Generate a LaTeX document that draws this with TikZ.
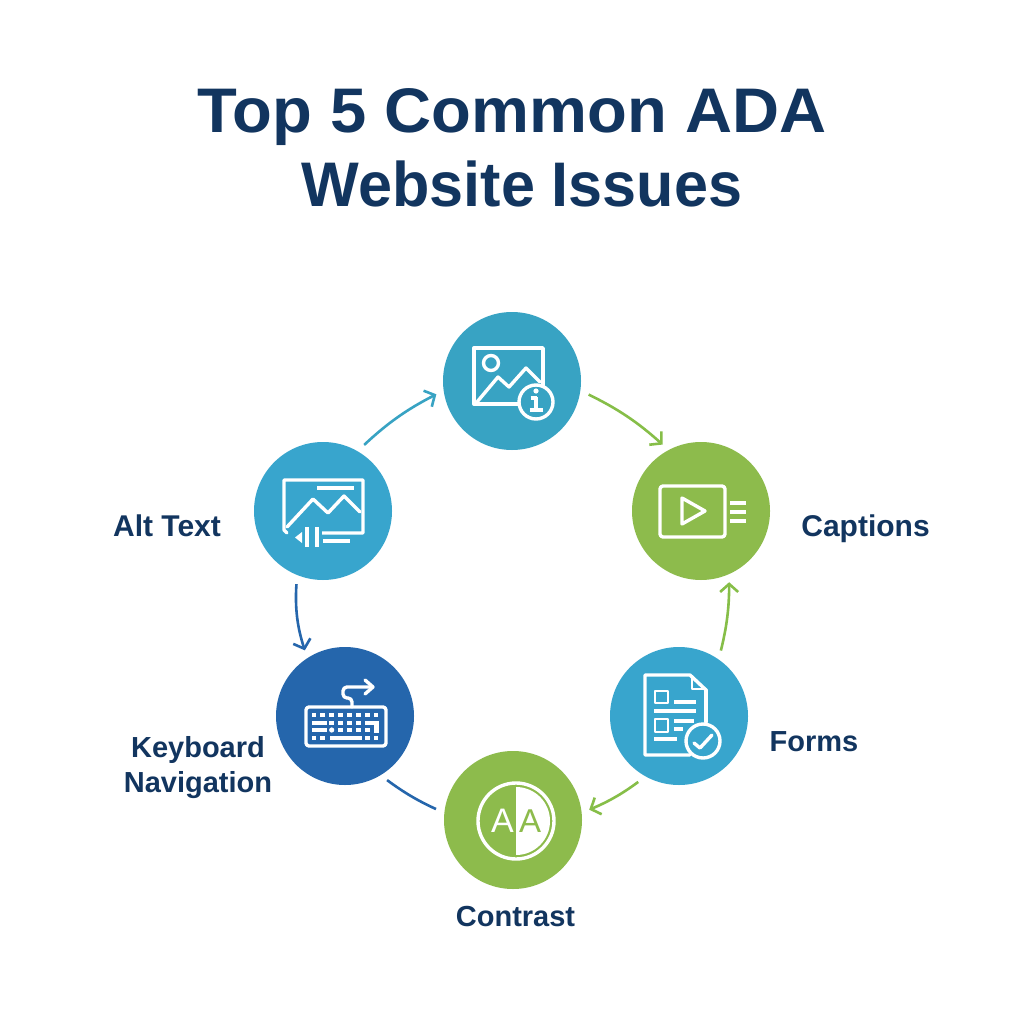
\documentclass[tikz,border=0pt]{standalone}
\usepackage{fontspec}
\setmainfont{Liberation Sans}
\usetikzlibrary{arrows.meta}
\definecolor{ink}{HTML}{12355F}
\definecolor{teal}{HTML}{38A3C3}
\definecolor{sky}{HTML}{38A5CD}
\definecolor{leaf}{HTML}{8DBB4C}
\definecolor{royal}{HTML}{2566AC}
\tikzset{
  disc/.style={circle,minimum size=138pt,inner sep=0pt,fill=#1},
  titletext/.style={anchor=base,text=ink,font=\fontsize{63}{63}\selectfont\bfseries},
  labeltext/.style={anchor=base,text=ink,font=\fontsize{30}{30}\selectfont\bfseries},
  labelsmall/.style={anchor=base,text=ink,font=\fontsize{29}{29}\selectfont\bfseries},
  link/.style={draw=#1,line width=2.6pt,shorten >=8pt,shorten <=9pt},
  linkhead/.style={link=#1,-{Straight Barb[length=8pt,width=18pt,line width=2.6pt]}},
  icon/.style={draw=white,line width=3.4pt,line join=round,line cap=round},
  iconthin/.style={draw=white,line width=2.6pt,line join=round,line cap=round},
  bar/.style={draw=white,line width=3.4pt,line cap=butt}
}
\begin{document}
\begin{tikzpicture}[x=1pt,y=-1pt]
\useasboundingbox (0,0) rectangle (1024,1024);
\fill[white] (0,0) rectangle (1024,1024);
% titles
\node[titletext] (title1) at (512,133) {\scalebox{1.034}[1]{Top 5 Common ADA}};
\node[titletext] (title2) at (522,207) {\scalebox{0.97}[1]{Website Issues}};
% discs
\node[disc=teal] (top) at (512,381) {};
\node[disc=leaf] (cap) at (701,511) {};
\node[disc=sky] (alt) at (323,511) {};
\node[disc=royal] (kb) at (345,716) {};
\node[disc=sky] (frm) at (679,716) {};
\node[disc=leaf] (con) at (513,820) {};
% labels
\node[labeltext] (l1) at (167,536) {Alt Text};
\node[labeltext] (l2) at (865.5,536) {Captions};
\node[labelsmall] (l3) at (814,751) {Forms};
\node[labelsmall] (l4) at (515.5,926) {Contrast};
\node[labelsmall] (l5) at (198,757) {Keyboard};
\node[labelsmall] (l6) at (198,792) {Navigation};
% connectors
\draw[linkhead=teal] (alt.60.8) to[bend left=8] (top.188.2);
\draw[linkhead=leaf!95!green] (top.-8.9) to[bend left=8] (cap.118);
\draw[linkhead=leaf!95!green] (frm.55) to[bend right=7] (cap.-66);
\draw[linkhead=leaf!95!green] (frm.-119) to[bend left=7] (con.6.7);
\draw[link=royal] (con.174) to[bend left=6] (kb.-59);
\draw[linkhead=royal] (alt.-112.6) to[bend right=11] (kb.123.9);
% top icon
\draw[icon] (474,348) rectangle (543,404);
\draw[icon] (491,363) circle (7.5);
\draw[icon] (477,402) -- (498,377) -- (509,387) -- (526,368) -- (540,382);
\fill[teal] (536,402) circle (18);
\draw[icon] (536,402) circle (17);
\fill[white] (536,391) circle (2.6);
\draw[bar] (536,397) -- (536,410) (530.5,398) -- (537,398) (529.5,410) -- (543,410);
% captions icon
\draw[icon,rounded corners=3pt] (660,486) rectangle (725,537);
\draw[icon] (682,498) -- (705,511) -- (682,524) -- cycle;
\draw[bar] (730,503) -- (746,503) (730,512) -- (746,512) (730,521) -- (746,521);
% alt icon
\draw[icon] (287,533) -- (284,530) -- (284,480) -- (363,480) -- (363,533) -- (295,533);
\draw[icon] (287,527) -- (313,499) -- (328,513) -- (344,496) -- (360,512);
\draw[bar] (317,488) -- (354,488);
\fill[sky] (290,530) rectangle (322,549);
\fill[white] (295,537.5) -- (302,532) -- (302,543) -- cycle;
\draw[bar] (307,527) -- (307,547) (317,527) -- (317,547);
\draw[bar] (323,541) -- (350,541);
% keyboard icon
\draw[icon,rounded corners=3pt] (306,707) rectangle (386,746);
\draw[icon,rounded corners=4pt] (352,707) -- (352,698) -- (343,698) -- (343,687) -- (372,687);
\draw[icon] (365,680) -- (373,687) -- (365,694);
\foreach \x in {314,322.7,331.7,340.7,349.3,358.3,367.3,376}
  \fill[white] (\x-2.4,712.6) rectangle (\x+2.4,717.4);
\foreach \x in {331.7,340.7,349.3,358.3}
  \fill[white] (\x-2.4,720.6) rectangle (\x+2.4,725.4);
\foreach \x in {340.7,349.3,358.3,367.3}
  \fill[white] (\x-2.4,727.6) rectangle (\x+2.4,732.4);
\fill[white] (331.7,730) circle (2.6);
\fill[white] (312,720.8) rectangle (327,725.2);
\fill[white] (312,727.8) rectangle (327,732.2);
\fill[white] (365,720.8) rectangle (378.5,725.2);
\fill[white] (374,721) rectangle (378.5,733);
\foreach \x in {314,322.7,367.3,376}
  \fill[white] (\x-2.4,735.6) rectangle (\x+2.4,740.4);
\fill[white] (330,735.8) rectangle (361.5,740.2);
% forms icon
\draw[icon] (706,690) -- (690,675) -- (645,675) -- (645,755) -- (690,755);
\draw[icon] (706,690) -- (706,722);
\draw[iconthin] (692,677) -- (692,689) -- (705,689);
\draw[iconthin] (655,691) rectangle (668,703);
\draw[iconthin] (655,719) rectangle (668,732);
\draw[bar] (674,702) -- (696,702) (654,711) -- (696,711) (674,721) -- (694,721) (674,729) -- (683,729) (654,739) -- (677,739);
\fill[sky] (703,741) circle (18);
\draw[icon] (703,741) circle (17);
\draw[icon] (694,743) -- (700,748) -- (712,735);
% contrast icon
\draw[icon] (516,821) circle (38);
\fill[white] (516,787) arc[start angle=-90,end angle=90,radius=34] -- cycle;
\node[anchor=base,text=white,font=\fontsize{34}{34}\selectfont] (a1) at (502.5,832) {A};
\node[anchor=base,text=leaf,font=\fontsize{33}{33}\selectfont] (a2) at (530,832) {A};
\end{tikzpicture}
\end{document}
